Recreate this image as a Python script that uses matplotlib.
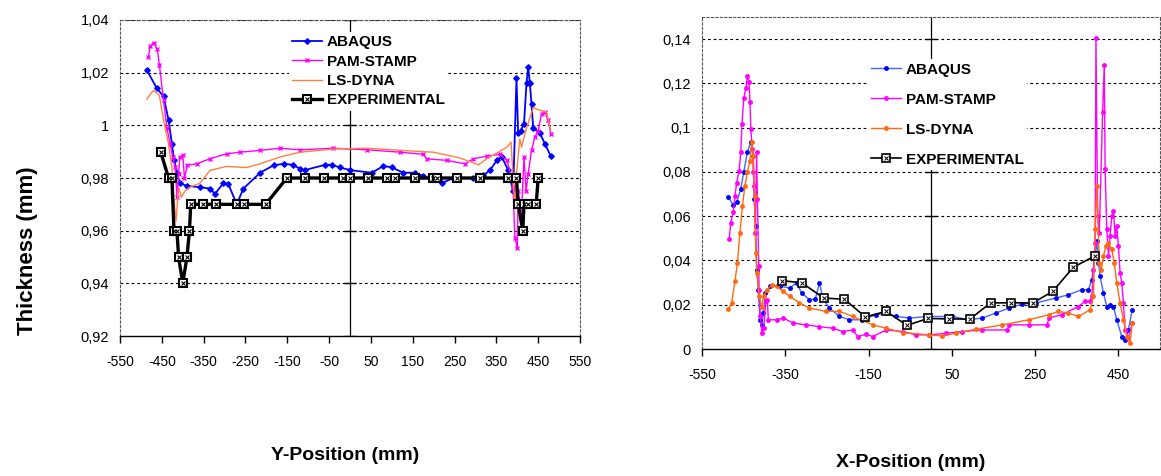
import numpy as np
import matplotlib
matplotlib.use("Agg")
import matplotlib.pyplot as plt
from matplotlib.ticker import FuncFormatter
from matplotlib.legend_handler import HandlerTuple

plt.rcParams['font.family'] = ['Liberation Sans', 'DejaVu Sans']
plt.rcParams['axes.unicode_minus'] = False

# ---- left chart: thickness vs Y position ----
lx_abaqus = [-486, -462, -446, -434, -426, -421, -414, -407, -390, -359, -335, -323, -303, -291, -271, -255,
             -215, -183, -159, -136, -120, -108, -60, -44, -24, 0, 52, 80, 100, 127, 155, 175, 219, 247, 295,
             319, 335, 351, 363, 378, 390, 398, 402, 408, 416, 422, 426, 430, 434, 438, 454, 466, 480]
ly_abaqus = [1.021, 1.014, 1.011, 1.002, 0.993, 0.987, 0.982, 0.978, 0.977, 0.9765, 0.976, 0.974, 0.978,
             0.9777, 0.970, 0.976, 0.982, 0.9848, 0.9854, 0.985, 0.9835, 0.983, 0.985, 0.985, 0.984, 0.983,
             0.982, 0.9846, 0.984, 0.982, 0.982, 0.9807, 0.978, 0.980, 0.980, 0.981, 0.983, 0.9867, 0.988,
             0.983, 0.975, 1.0178, 0.997, 0.998, 1.0006, 1.016, 1.022, 1.016, 1.008, 0.999, 0.997, 0.993, 0.9883]

lx_pam = [-482, -478, -470, -461, -456, -446, -438, -430, -424, -418, -414, -410, -407, -400, -396, -389,
          -367, -335, -295, -263, -215, -167, -120, -40, 40, 120, 175, 183, 231, 275, 295, 327, 359, 375,
          387, 390, 394, 400, 402, 410, 416, 421, 426, 434, 442, 450, 458, 466, 474, 480]
ly_pam = [1.026, 1.030, 1.0314, 1.029, 1.023, 1.0095, 0.999, 0.993, 0.988, 0.984, 0.9727, 0.9816, 0.988,
          0.9886, 0.980, 0.9848, 0.9854, 0.9873, 0.9892, 0.9898, 0.9905, 0.9913, 0.9907, 0.9913, 0.9907,
          0.9898, 0.989, 0.9873, 0.9867, 0.9854, 0.9873, 0.9883, 0.989, 0.9867, 0.980, 0.9765, 0.9574,
          0.9536, 0.975, 0.9664, 0.988, 0.975, 0.9816, 0.9905, 0.9955, 0.998, 1.0044, 1.005, 1.002, 0.9968]

lx_dyna = [-486, -470, -456, -446, -434, -426, -421, -416, -410, -403, -395, -383, -359, -335, -295, -247,
           -215, -167, -120, -40, 40, 120, 199, 263, 307, 327, 359, 375, 385, 394, 398, 406, 410, 422, 438,
           454, 470, 480]
ly_dyna = [1.010, 1.0133, 1.0114, 1.002, 0.993, 0.984, 0.9714, 0.9638, 0.9765, 0.9727, 0.975, 0.9765,
           0.978, 0.9829, 0.9844, 0.984, 0.9854, 0.988, 0.9898, 0.991, 0.9913, 0.9905, 0.9898, 0.9876, 0.985,
           0.9873, 0.9902, 0.9917, 0.9936, 0.9689, 0.9817, 0.9949, 0.9917, 0.999, 1.0067, 1.0057, 1.005, 0.998]

lx_exp = [-453, -434, -426, -421, -414, -410, -400, -390, -384, -381, -351, -320, -271, -253, -202, -151,
          -108, -62, -17, 0, 44, 89, 108, 155, 199, 207, 255, 311, 378, 398, 402, 413, 416, 426, 445, 450]
ly_exp = [0.99, 0.98, 0.98, 0.96, 0.96, 0.95, 0.94, 0.95, 0.96, 0.97, 0.97, 0.97, 0.97, 0.97, 0.97, 0.98,
          0.98, 0.98, 0.98, 0.98, 0.98, 0.98, 0.98, 0.98, 0.98, 0.98, 0.98, 0.98, 0.98, 0.98, 0.97, 0.96,
          0.97, 0.97, 0.97, 0.98]

# ---- right chart: X position ----
rx_abaqus = [-487, -475, -467, -457, -450, -441, -433, -427, -425, -421, -419, -415, -411, -407, -403, -398,
             -387, -363, -339, -323, -311, -292, -278, -268, -260, -244, -220, -196, -165, -132, -108, -84,
             -52, -4, 51, 91, 123, 155, 187, 219, 251, 299, 330, 362, 378, 386, 394, 398, 402, 406, 414, 422,
             430, 438, 446, 458, 466, 474, 483]
ry_abaqus = [0.0688, 0.065, 0.0662, 0.0723, 0.0799, 0.089, 0.0935, 0.0874, 0.0677, 0.0556, 0.0359, 0.0268,
             0.0132, 0.0109, 0.0162, 0.0253, 0.0283, 0.0283, 0.0276, 0.0299, 0.0253, 0.0223, 0.0225, 0.0299,
             0.023, 0.0185, 0.0147, 0.0132, 0.0132, 0.0155, 0.0162, 0.0147, 0.014, 0.0147, 0.0147, 0.0132,
             0.014, 0.0162, 0.0185, 0.0203, 0.0208, 0.023, 0.0245, 0.0268, 0.0268, 0.0314, 0.042, 0.0488,
             0.039, 0.0329, 0.0253, 0.0192, 0.020, 0.0192, 0.0132, 0.0056, 0.0041, 0.0086, 0.0177]

rx_pam = [-485, -481, -475, -471, -467, -461, -457, -454, -450, -445, -441, -437, -435, -433, -429, -427,
          -425, -422, -419, -417, -414, -413, -410, -406, -402, -397, -393, -391, -371, -355, -331, -300,
          -268, -236, -212, -188, -176, -156, -140, -108, -68, -36, -4, 35, 75, 123, 183, 187, 235, 279, 283,
          314, 354, 370, 382, 386, 390, 394, 396, 400, 404, 412, 416, 418, 422, 426, 430, 434, 438, 442, 446,
          450, 454, 458, 462, 466, 474, 483]
ry_pam = [0.0495, 0.0571, 0.0617, 0.0692, 0.0749, 0.0806, 0.089, 0.1018, 0.1132, 0.1177, 0.1235, 0.1208,
          0.1117, 0.0995, 0.0905, 0.0799, 0.0738, 0.0526, 0.089, 0.0677, 0.0374, 0.0268, 0.0147, 0.0071,
          0.0094, 0.0215, 0.0223, 0.0132, 0.0132, 0.014, 0.0117, 0.0109, 0.0101, 0.0094, 0.0079, 0.0086,
          0.0056, 0.0067, 0.0056, 0.0086, 0.0079, 0.0064, 0.0064, 0.0071, 0.0079, 0.0086, 0.0086, 0.0109,
          0.0109, 0.0109, 0.014, 0.0155, 0.0192, 0.0215, 0.0215, 0.0238, 0.0359, 0.048, 0.1404, 0.0601,
          0.0526, 0.1071, 0.1283, 0.0814, 0.0541, 0.042, 0.051, 0.0601, 0.0624, 0.051, 0.0556, 0.0465,
          0.0344, 0.0299, 0.0208, 0.0086, 0.0049, 0.0117]

rx_dyna = [-487, -479, -471, -465, -459, -453, -447, -441, -435, -431, -427, -424, -421, -418, -413, -407,
           -402, -395, -383, -371, -355, -339, -316, -292, -252, -220, -188, -140, -108, -68, -4, 27, 59, 107,
           171, 235, 283, 306, 330, 354, 382, 390, 394, 398, 404, 409, 414, 420, 426, 434, 440, 446, 454, 462,
           470, 478, 483]
ry_dyna = [0.018, 0.0208, 0.0306, 0.039, 0.0526, 0.0647, 0.0738, 0.0799, 0.0851, 0.0935, 0.0874, 0.0692,
           0.0435, 0.0344, 0.0238, 0.0192, 0.0238, 0.0268, 0.0288, 0.0283, 0.026, 0.0238, 0.0208, 0.0185,
           0.017, 0.017, 0.0147, 0.0109, 0.0094, 0.0074, 0.0064, 0.0059, 0.0071, 0.0089, 0.0109, 0.0132,
           0.0155, 0.017, 0.0162, 0.0147, 0.0177, 0.0238, 0.0541, 0.0738, 0.039, 0.0359, 0.042, 0.0465, 0.048,
           0.045, 0.039, 0.0299, 0.0208, 0.0132, 0.0056, 0.0026, 0.0117]

rx_exp = [-359, -310, -258, -208, -158, -108, -58, -7, 43, 93, 143, 193, 244, 292, 342, 393]
ry_exp = [0.0309, 0.0299, 0.023, 0.0225, 0.0145, 0.017, 0.0107, 0.0138, 0.0136, 0.0135, 0.0208, 0.0209,
          0.0208, 0.026, 0.037, 0.042]

l_xticks = list(range(-550, 551, 100))
l_yticks = [0.92, 0.94, 0.96, 0.98, 1.00, 1.02, 1.04]
r_xticks = list(range(-550, 451, 200))
r_yticks = [0, 0.02, 0.04, 0.06, 0.08, 0.10, 0.12, 0.14]


def comma(v, pos):
    return ('%g' % round(v, 4)).replace('.', ',')


def style_axes(ax, xlim, ylim, xticks, yticks):
    ax.set_xlim(*xlim)
    ax.set_ylim(*ylim)
    ax.set_xticks(xticks)
    ax.set_yticks(yticks)
    ax.yaxis.set_major_formatter(FuncFormatter(comma))
    for s in ['left', 'top', 'right']:
        ax.spines[s].set_linestyle((0, (2, 2)))
        ax.spines[s].set_linewidth(0.8)
        ax.spines[s].set_color('#555555')
    ax.spines['bottom'].set_linewidth(1.0)
    ax.tick_params(axis='x', direction='out', length=5, width=1, labelsize=10, pad=9)
    ax.tick_params(axis='y', length=0, labelsize=10.5, pad=8)
    for y in yticks[1:]:
        ax.axhline(y, color='black', lw=0.8, ls=(0, (2.5, 2.5)), zorder=0)
    ax.axvline(0, color='black', lw=0.9, zorder=1)
    ax.plot([0] * len(yticks), yticks, ls='none', marker='_', ms=8, color='black', zorder=1)


fig = plt.figure(figsize=(11.61, 4.76), dpi=100)

# left
ax1 = fig.add_axes([0.1034, 0.2941, 0.3962, 0.6639])
style_axes(ax1, (-550, 550), (0.92, 1.04), l_xticks, l_yticks)
h1, = ax1.plot(lx_abaqus, ly_abaqus, color='#0000FF', lw=1.3, marker='D', ms=2.8, label='ABAQUS')
h2, = ax1.plot(lx_pam, ly_pam, color='#FF00FF', lw=1.0, marker='x', ms=3.5, mew=1.0, label='PAM-STAMP')
h3, = ax1.plot(lx_dyna, ly_dyna, color='#FF8040', lw=1.0, label='LS-DYNA')
h4, = ax1.plot(lx_exp, ly_exp, color='black', lw=2.4, marker='s', ms=6, mfc='white', mec='black', mew=1.5)
h4x, = ax1.plot(lx_exp, ly_exp, ls='none', marker='x', ms=3, color='black', mew=0.8)
leg1 = ax1.legend([h1, h2, h3, (h4, h4x)], ['ABAQUS', 'PAM-STAMP', 'LS-DYNA', 'EXPERIMENTAL'],
                  handler_map={tuple: HandlerTuple(ndivide=1)},
                  loc='upper left', bbox_to_anchor=(0.35, 0.985), frameon=True, fancybox=False,
                  edgecolor='none', facecolor='white', framealpha=1, handlelength=2.0, handletextpad=0.3,
                  labelspacing=0.35, borderpad=0.2, prop={'weight': 'bold', 'size': 11})

# right
ax2 = fig.add_axes([0.6047, 0.2668, 0.3945, 0.6975])
style_axes(ax2, (-550, 550), (0, 0.15), r_xticks, r_yticks)
g1, = ax2.plot(rx_abaqus, ry_abaqus, color='#4466FF', lw=1.0, marker='o', ms=2.5, mfc='#0000FF',
               mec='#0000FF', label='ABAQUS')
g2, = ax2.plot(rx_pam, ry_pam, color='#FF00FF', lw=1.0, marker='o', ms=2.5, label='PAM-STAMP')
g3, = ax2.plot(rx_dyna, ry_dyna, color='#FF6A10', lw=1.0, marker='o', ms=2.5, label='LS-DYNA')
g4, = ax2.plot(rx_exp, ry_exp, color='black', lw=1.2, marker='s', ms=5.5, mfc='white', mec='black', mew=1.2)
g4x, = ax2.plot(rx_exp, ry_exp, ls='none', marker='x', ms=2.6, color='black', mew=0.7)
leg2 = ax2.legend([g1, g2, g3, (g4, g4x)], ['ABAQUS', 'PAM-STAMP', 'LS-DYNA', 'EXPERIMENTAL'],
                  handler_map={tuple: HandlerTuple(ndivide=1)},
                  loc='upper left', bbox_to_anchor=(0.345, 0.895), frameon=True, fancybox=False,
                  edgecolor='none', facecolor='white', framealpha=1, handlelength=2.0, handletextpad=0.3,
                  labelspacing=1.05, borderpad=0.2, prop={'weight': 'bold', 'size': 11})

fig.text(0.024, 0.473, 'Thickness (mm)', rotation=90, ha='center', va='center', fontsize=16, fontweight='bold')
fig.text(0.297, 0.044, 'Y-Position (mm)', ha='center', va='center', fontsize=14, fontweight='bold')
fig.text(0.784, 0.029, 'X-Position (mm)', ha='center', va='center', fontsize=14, fontweight='bold')

fig.savefig('out.png', dpi=100, facecolor='white')
